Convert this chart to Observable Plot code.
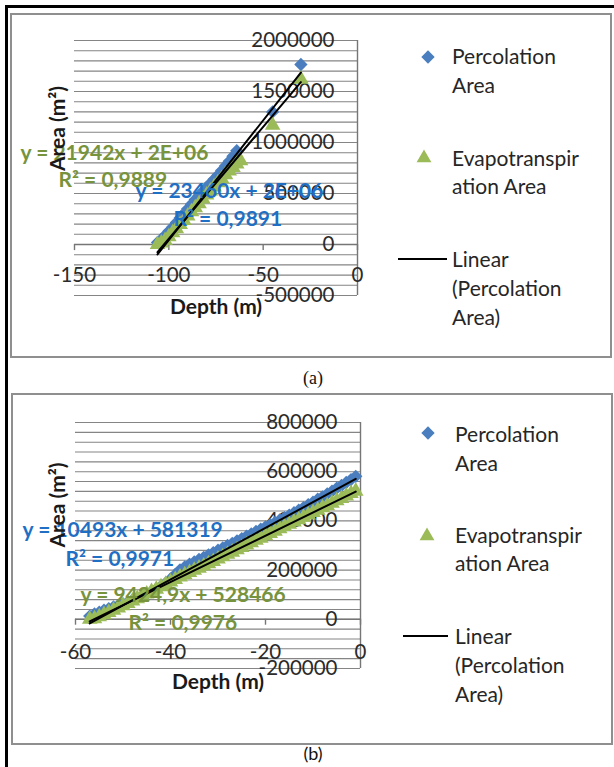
<!DOCTYPE html>
<html><head><meta charset="utf-8">
<script src="https://cdn.jsdelivr.net/npm/d3@7"></script>
<script src="https://cdn.jsdelivr.net/npm/@observablehq/plot@0.6"></script>
<style>
body{margin:0;background:#fff;}
#page{position:relative;width:614px;height:767px;overflow:hidden;font-family:Lato,sans-serif;background:#fff;}
.fr{position:absolute;background:#000;}
.panel{position:absolute;border:2px solid #8f8f8f;background:#fff;box-sizing:content-box;}
.panel svg.plot{position:absolute;left:0;top:0;overflow:visible;}
.leg{position:absolute;font-size:21px;line-height:29px;color:#262626;white-space:nowrap;font-family:Lato,sans-serif;}
.sw{position:absolute;overflow:visible;}
.cap{position:absolute;font-size:18px;color:#111;transform:translate(-50%,-50%);white-space:nowrap;}
</style></head>
<body><div id="page"></div>
<script>
// ---------- Panel (a) data ----------
const aPercDepth = [-106,-104,-102,-100,-98,-96,-94,-92,-90,-88,-86,-84,-82,-80,-78,-76,-74,-72,-70,-68,-66,-64,-45,-30];
const aPercArea  = [20000,50000,90000,130000,170000,215000,260000,305000,350000,395000,440000,480000,520000,560000,600000,640000,680000,725000,770000,815000,865000,920000,1300000,1765000];
const aEvapDepth = [-106,-104,-102,-100,-98,-96,-94,-92,-90,-88,-86,-84,-82,-80,-78,-76,-74,-72,-70,-68,-66,-64,-62,-45,-30];
const aEvapArea  = [0,15000,40000,75000,115000,155000,195000,235000,280000,320000,360000,400000,445000,485000,525000,565000,605000,645000,685000,720000,755000,790000,820000,1170000,1620000];
const aTrendSlope = [23460, 21942];          // Percolation, Evapotranspiration
const aTrendIntercept = [2390000, 2250000];
const aTrendRange = [[-106,-30],[-106,-30]];
const aXTicks = [-150,-100,-50,0];
const aXTickLabels = ["-150","-100","-50","0"];
const aYTicks = [-500000,0,500000,1000000,1500000,2000000];
const aYTickLabels = ["-500000","0","500000","1000000","1500000","2000000"];
const aEquations = ["y = 21942x + 2E+06","R² = 0,9889","y = 23460x + 2E+06","R² = 0,9891"];

// ---------- Panel (b) data ----------
const bPercDepth = [-57,-56,-55,-54,-53,-52,-51,-50,-49,-48,-47,-46,-45,-44,-43,-42,-41,-40,-39,-38,-37,-36,-35,-34,-33,-32,-31,-30,-29,-28,-27,-26,-25,-24,-23,-22,-21,-20,-19,-18,-17,-16,-15,-14,-13,-12,-11,-10,-9,-8,-7,-6,-5,-4,-3,-2,-1];
const bPercArea  = [13000,22000,29000,37000,43000,50000,56000,63000,70000,78000,85000,94000,103000,113000,123000,135000,148000,164000,182000,201000,213000,224000,233000,243000,252000,262000,271000,281000,290000,300000,309000,319000,328000,338000,347000,357000,366000,376000,385000,394000,404000,413000,423000,433000,444000,454000,466000,476000,488000,498000,510000,521000,533000,544000,556000,568000,581000];
const bEvapDepth = [-57,-56,-55,-54,-53,-52,-51,-50,-49,-48,-47,-46,-45,-44,-43,-42,-41,-40,-39,-38,-37,-36,-35,-34,-33,-32,-31,-30,-29,-28,-27,-26,-25,-24,-23,-22,-21,-20,-19,-18,-17,-16,-15,-14,-13,-12,-11,-10,-9,-8,-7,-6,-5,-4,-3,-2,-1];
const bEvapArea  = [0,2000,10000,19000,28000,37000,46000,55000,64000,74000,84000,93000,103000,113000,122000,132000,142000,152000,162000,172000,181000,190000,199000,208000,217000,226000,235000,245000,254000,264000,273000,283000,292000,302000,311000,321000,330000,340000,349000,358000,368000,377000,386000,396000,405000,415000,424000,434000,443000,453000,462000,472000,482000,491000,501000,511000,521000];
const bTrendSlope = [10493, 9424.9];
const bTrendIntercept = [581319, 528466];
const bTrendRange = [[-57,-1],[-57,-1]];
const bXTicks = [-60,-40,-20,0];
const bXTickLabels = ["-60","-40","-20","0"];
const bYTicks = [-200000,0,200000,400000,600000,800000];
const bYTickLabels = ["-200000","0","200000","400000","600000","800000"];
const bEquations = ["y = 10493x + 581319","R² = 0,9971","y = 9424,9x + 528466","R² = 0,9976"];

const legendLabels = [["Percolation","Area"],["Evapotranspir","ation Area"],["Linear","(Percolation","Area)"]];
const seriesNames = ["Percolation Area","Evapotranspiration Area"];

// ---------- styles ----------
const BLUE = "#4a7ebf", GREEN = "#9bbb59", BLUE_T = "#1f6fc4", GREEN_T = "#77933c";
const GRID = "#858585", AXIS = "#767676";

const page = document.getElementById("page");
function div(cls, css, html){const e=document.createElement("div");e.className=cls;Object.assign(e.style,css);if(html!=null)e.innerHTML=html;return e;}
page.appendChild(div("fr",{left:"5px",top:"5px",width:"609px",height:"3px"}));
page.appendChild(div("fr",{left:"5px",top:"5px",width:"3px",height:"762px"}));

function makePanel(cfg){
  const p = div("panel",{left:cfg.left+"px",top:cfg.top+"px",width:cfg.w+"px",height:cfg.h+"px"});
  page.appendChild(p);
  const perc = cfg.percDepth.map((d,i)=>({x:d,y:cfg.percArea[i],s:seriesNames[0]}));
  const evap = cfg.evapDepth.map((d,i)=>({x:d,y:cfg.evapArea[i],s:seriesNames[1]}));
  const trends = cfg.slope.map((m,k)=>cfg.range[k].map(x=>({x, y:m*x+cfg.intercept[k], k})));
  const grid = d3.range(cfg.yDomain[0], cfg.yDomain[1]+1, cfg.gridStep);
  const eqStyle = {fontSize:21, fontWeight:"bold", textAnchor:"start", frameAnchor:"top-left"};
  const chart = Plot.plot({
    width: cfg.w, height: cfg.h,
    marginLeft: cfg.m[0], marginRight: cfg.m[1], marginTop: cfg.m[2], marginBottom: cfg.m[3],
    x: {domain: cfg.xDomain, axis: null},
    y: {domain: cfg.yDomain, axis: null},
    style: {fontFamily: "Lato, sans-serif", background: "transparent", overflow: "visible"},
    marks: [
      Plot.ruleY(grid, {stroke: GRID, strokeWidth: 1.1}),
      Plot.ruleY([0], {stroke: AXIS, strokeWidth: 1.4}),
      Plot.ruleX([0], {stroke: AXIS, strokeWidth: 1.4}),
      Plot.ruleX(cfg.xTicks, {x: d=>d, y1: 0, y2: -cfg.tickLen, stroke: AXIS, strokeWidth: 1.4}),
      Plot.text(cfg.yTicks, {x: ()=>0, y: d=>d, text: (d,i)=>cfg.yTickLabels[i], textAnchor: "end", dx: cfg.yLabDx, fontSize: 20.5, fill: "#2b2b2b"}),
      Plot.text(cfg.xTicks, {x: d=>d, y: ()=>0, text: (d,i)=>cfg.xTickLabels[i], dy: cfg.xLabDy, fontSize: 20.5, fill: "#2b2b2b"}),
      Plot.dot(perc, {x: "x", y: "y", symbol: "diamond2", r: 6, fill: BLUE, stroke: "none"}),
      Plot.dot(evap, {x: "x", y: "y", symbol: "triangle", r: 5.8, fill: GREEN, stroke: "none"}),
      ...trends.map(t => Plot.line(t, {x: "x", y: "y", stroke: "#000", strokeWidth: 2})),
      ...cfg.eqs.map((t,i)=>Plot.text([t], {...eqStyle, text: d=>d, dx: cfg.eqPos[i][0], dy: cfg.eqPos[i][1], fill: cfg.eqColor[i]})),
      Plot.text(["Area (m²)"], {text: d=>d, frameAnchor: "left", rotate: -90, dx: cfg.yTitle[0], dy: cfg.yTitle[1], fontSize: 21, fontWeight: "bold", fill: "#1a1a1a"}),
      Plot.text(["Depth (m)"], {text: d=>d, frameAnchor: "bottom", dx: cfg.xTitle[0], dy: cfg.xTitle[1], fontSize: 21, fontWeight: "bold", fill: "#1a1a1a"})
    ]
  });
  chart.classList.add("plot");
  p.appendChild(chart);
  // legend
  const L = cfg.leg;
  const sym = (type, size, color) => {
    const s = document.createElementNS("http://www.w3.org/2000/svg","svg");
    s.setAttribute("class","sw"); s.setAttribute("width","1"); s.setAttribute("height","1");
    const path = document.createElementNS("http://www.w3.org/2000/svg","path");
    path.setAttribute("d", d3.symbol(type, size)());
    path.setAttribute("fill", color);
    s.appendChild(path); return s;
  };
  const s1 = sym(d3.symbolDiamond2, Math.PI*36, BLUE); Object.assign(s1.style,{left:L.d[0]+"px",top:L.d[1]+"px"}); p.appendChild(s1);
  const s2 = sym(d3.symbolTriangle, Math.PI*30.25, GREEN); Object.assign(s2.style,{left:L.t[0]+"px",top:L.t[1]+"px"}); p.appendChild(s2);
  p.appendChild(div("",{position:"absolute",left:L.l[0]+"px",top:(L.l[2]-1)+"px",width:(L.l[1]-L.l[0])+"px",height:"2px",background:"#000"}));
  legendLabels.forEach((lines,k)=>{
    p.appendChild(div("leg",{left:L.tx[k]+"px",top:L.ty[k]+"px",lineHeight:L.lh[k]+"px"}, lines.join("<br>")));
  });
}

makePanel({
  left:10, top:13, w:598, h:341, m:[62,253,25,61],
  xDomain:[-150,0], yDomain:[-500000,2000000], gridStep:100000, tickLen:60000,
  xTicks:aXTicks, xTickLabels:aXTickLabels, yTicks:aYTicks, yTickLabels:aYTickLabels,
  yLabDx:-23, xLabDy:31,
  percDepth:aPercDepth, percArea:aPercArea, evapDepth:aEvapDepth, evapArea:aEvapArea,
  slope:aTrendSlope, intercept:aTrendIntercept, range:aTrendRange,
  eqs:aEquations, eqPos:[[-54,105],[-16,132],[61,143],[99,171]], eqColor:[GREEN_T,GREEN_T,BLUE_T,BLUE_T],
  yTitle:[-16,3], xTitle:[0,18],
  leg:{d:[416,42], t:[412,143], l:[386,435,244], tx:[440,440,440], ty:[26,129,229], lh:[29,28,29]}
});
makePanel({
  left:11, top:393, w:598, h:348, m:[62,251,27,75],
  xDomain:[-60,0], yDomain:[-200000,800000], gridStep:40000, tickLen:24000,
  xTicks:bXTicks, xTickLabels:bXTickLabels, yTicks:bYTicks, yTickLabels:bYTickLabels,
  yLabDx:-23, xLabDy:33,
  percDepth:bPercDepth, percArea:bPercArea, evapDepth:bEvapDepth, evapArea:bEvapArea,
  slope:bTrendSlope, intercept:bTrendIntercept, range:bTrendRange,
  eqs:bEquations, eqPos:[[-53,100],[-10,129],[5,165],[53,193]], eqColor:[BLUE_T,BLUE_T,GREEN_T,GREEN_T],
  yTitle:[-17,2], xTitle:[0,20],
  leg:{d:[415,38], t:[414,141], l:[390,435,241], tx:[442,442,442], ty:[24,126,226], lh:[29,28,29]}
});
const c1 = div("cap",{left:"313px",top:"378px",fontFamily:"'Liberation Serif',serif"},"(a)");
const c2 = div("cap",{left:"313px",top:"753px",fontFamily:"Lato,sans-serif"},"(b)");
page.appendChild(c1); page.appendChild(c2);
</script>
</body></html>
